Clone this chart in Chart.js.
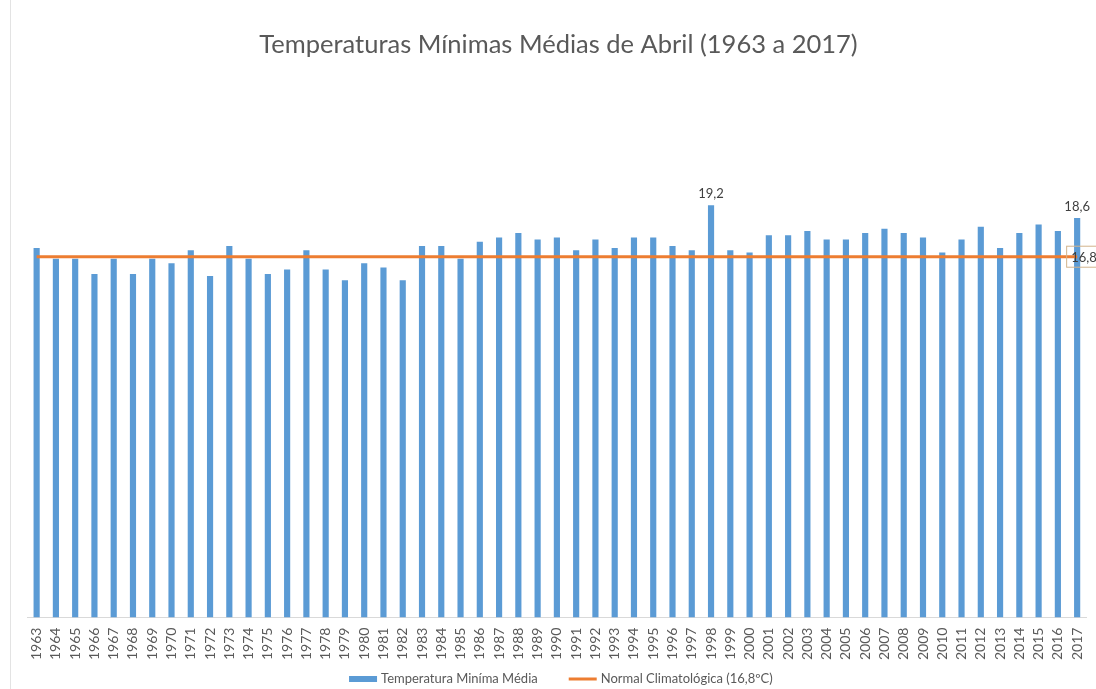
<!DOCTYPE html>
<html>
<head>
<meta charset="utf-8">
<script src="https://cdn.jsdelivr.net/npm/chart.js@4/dist/chart.umd.min.js"></script>
<style>
  html, body { margin: 0; padding: 0; background: #fff; }
  #wrap { position: relative; width: 1096px; height: 689px; overflow: hidden; }
  #frame { position: absolute; left: 10px; top: 0; width: 0; height: 689px; border-left: 1px solid #e3e3e3; }
  canvas { position: absolute; left: 0; top: 0; }
</style>
</head>
<body>
<div id="wrap">
  <div id="frame"></div>
  <canvas id="chart" width="1096" height="689"></canvas>
</div>
<script>
const years = [
  "1963","1964","1965","1966","1967","1968","1969","1970","1971","1972",
  "1973","1974","1975","1976","1977","1978","1979","1980","1981","1982",
  "1983","1984","1985","1986","1987","1988","1989","1990","1991","1992",
  "1993","1994","1995","1996","1997","1998","1999","2000","2001","2002",
  "2003","2004","2005","2006","2007","2008","2009","2010","2011","2012",
  "2013","2014","2015","2016","2017"
];
const tempMin = [
  17.2, 16.7, 16.7, 16.0, 16.7, 16.0, 16.7, 16.5, 17.1, 15.9,
  17.3, 16.7, 16.0, 16.2, 17.1, 16.2, 15.7, 16.5, 16.3, 15.7,
  17.3, 17.3, 16.7, 17.5, 17.7, 17.9, 17.6, 17.7, 17.1, 17.6,
  17.2, 17.7, 17.7, 17.3, 17.1, 19.2, 17.1, 17.0, 17.8, 17.8,
  18.0, 17.6, 17.6, 17.9, 18.1, 17.9, 17.7, 17.0, 17.6, 18.2,
  17.2, 17.9, 18.3, 18.0, 18.6
];
const normal = years.map(() => 16.8);
const labeledYears = ["1998", "2017"];

const fmt = (v) => v.toFixed(1).replace(".", ",");

const valueLabels = {
  id: "valueLabels",
  afterDatasetsDraw(chart) {
    const ctx = chart.ctx;
    const bars = chart.getDatasetMeta(0).data;
    const pts = chart.getDatasetMeta(1).data;
    ctx.save();
    ctx.font = "13px Lato";
    ctx.fillStyle = "#404040";
    ctx.textAlign = "center";
    ctx.textBaseline = "bottom";
    labeledYears.forEach((y) => {
      const i = years.indexOf(y);
      ctx.fillText(fmt(tempMin[i]), bars[i].x, bars[i].y - 5);
    });
    // label of the normal line at its last point
    const p = pts[pts.length - 1];
    const txt = fmt(normal[normal.length - 1]);
    const w = ctx.measureText(txt).width;
    const bx = p.x - 11;
    ctx.strokeStyle = "#d2b48c";
    ctx.lineWidth = 1;
    ctx.strokeRect(bx + 0.5, p.y - 10.5, w + 10, 21);
    ctx.textAlign = "left";
    ctx.textBaseline = "middle";
    ctx.fillText(txt, bx + 5, p.y + 1);
    ctx.restore();
  }
};

// legend drawn by hand so the gap between the two entries matches Excel
const bottomLegend = {
  id: "bottomLegend",
  afterDraw(chart) {
    const ctx = chart.ctx;
    const ds = chart.data.datasets;
    const y = 679;
    const sym = 28, gap = 4, itemGap = 31;
    ctx.save();
    ctx.font = "13px Lato";
    const w0 = ctx.measureText(ds[0].label).width;
    const w1 = ctx.measureText(ds[1].label).width;
    const total = sym + gap + w0 + itemGap + sym + gap + w1;
    let x = (chart.chartArea.left + chart.chartArea.right) / 2 + 4 - total / 2;
    ctx.fillStyle = ds[0].backgroundColor;
    ctx.fillRect(x, y - 3, sym, 6);
    x += sym + gap;
    ctx.fillStyle = "#595959";
    ctx.textBaseline = "middle";
    ctx.fillText(ds[0].label, x, y);
    x += w0 + itemGap;
    ctx.strokeStyle = ds[1].borderColor;
    ctx.lineWidth = 3;
    ctx.beginPath();
    ctx.moveTo(x, y);
    ctx.lineTo(x + sym, y);
    ctx.stroke();
    x += sym + gap;
    ctx.fillText(ds[1].label, x, y);
    ctx.restore();
  }
};

new Chart(document.getElementById("chart"), {
  type: "bar",
  data: {
    labels: years,
    datasets: [
      {
        type: "bar",
        label: "Temperatura Miníma Média",
        data: tempMin,
        backgroundColor: "#5b9bd5",
        borderWidth: 0,
        categoryPercentage: 1,
        barPercentage: 0.32,
        order: 2
      },
      {
        type: "line",
        label: "Normal Climatológica (16,8ºC)",
        data: normal,
        borderColor: "#ed7d31",
        backgroundColor: "#ed7d31",
        borderWidth: 3,
        pointRadius: 0,
        order: 1
      }
    ]
  },
  options: {
    responsive: false,
    animation: false,
    layout: { padding: { left: 27, right: 6, top: 0, bottom: 27 } },
    scales: {
      x: {
        grid: { display: false },
        border: { display: true, color: "#d9d9d9", width: 1 },
        ticks: {
          minRotation: 90,
          maxRotation: 90,
          autoSkip: false,
          padding: 2,
          color: "#595959",
          font: { family: "Lato", size: 14 }
        }
      },
      y: {
        display: false,
        min: 0,
        max: 25
      }
    },
    plugins: {
      title: {
        display: true,
        text: "Temperaturas Mínimas Médias de Abril (1963 a 2017)",
        color: "#595959",
        font: { family: "Lato", size: 25.5, weight: "normal" },
        padding: { top: 29, bottom: 21 }
      },
      legend: { display: false },
      tooltip: { enabled: false }
    }
  },
  plugins: [valueLabels, bottomLegend]
});
</script>
</body>
</html>
